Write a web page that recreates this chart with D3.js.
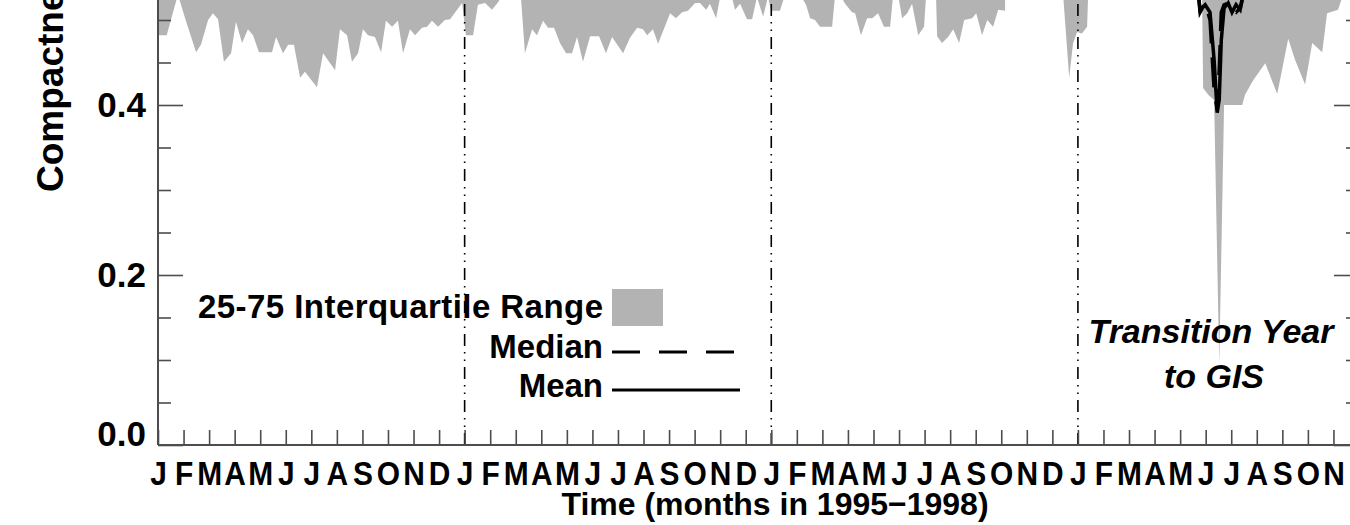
<!DOCTYPE html>
<html>
<head>
<meta charset="utf-8">
<script src="https://cdnjs.cloudflare.com/ajax/libs/d3/7.8.5/d3.min.js"></script>
<style>
  html, body { margin: 0; padding: 0; background: #fff; }
  svg { display: block; }
  text { font-family: "Liberation Sans", Arial, sans-serif; font-weight: bold; }
</style>
</head>
<body>
<svg id="chart" width="1350" height="525"></svg>
<script>
// ---------- DATA ----------
// time axis: months since Jan 1995 (0 = Jan 1995, 47 = Dec 1998)
const monthLabels = ["J","F","M","A","M","J","J","A","S","O","N","D"];
const yearStarts = [12, 24, 36];
const yMajorTicks = [0.0, 0.2, 0.4, 0.6];
const yMinorTicks = [0.05, 0.1, 0.15, 0.25, 0.3, 0.35, 0.45, 0.5, 0.55];

// 25th percentile (lower edge of the 25-75 range); null = no data
const iqrTime = [
  0.0, 0.34, 0.78, 1.06, 1.49, 1.68, 1.96, 2.15, 2.35, 2.58, 2.86, 3.05, 3.29, 3.52, 3.72, 3.95,
  4.46, 4.62, 4.89, 5.09, 5.32, 5.56, 5.75, 6.22, 6.46, 6.93, 7.12, 7.40, 7.59, 7.83, 8.02, 8.22,
  8.49, 8.73, 8.92, 9.16, 9.39, 9.59, 9.86, 10.06, 10.33, 10.53, 10.72, 10.96, 11.23, 11.43, 11.90,
  12.05, 12.33, 12.52, 12.80, 13.07, 13.31, 13.58, 13.97, 14.21, 14.36, 14.64, 14.83, 15.07, 15.26,
  15.50, 15.73, 15.97, 16.20, 16.40, 16.63, 16.91, 17.26, 17.53, 17.77, 18.20, 18.47, 18.75, 18.98,
  19.14, 19.37, 19.57, 20.04, 20.27, 20.51, 20.74, 21.02, 21.21, 21.45, 21.60, 21.84, 22.00, 22.35,
  22.58, 22.78, 23.05, 23.25, 23.44, 23.68, 23.87, 24.00,
  24.34, 24.54, 24.93, 25.36, 25.52, 25.71, 25.91, 26.38, 26.50, 26.69, 26.89, 27.16, 27.28, 27.51,
  27.75, 27.95, 28.18, 28.41, 28.65, 28.77, 28.96, 29.12, 29.32, 29.51, 29.75, 29.98, 30.06, 30.25,
  30.45, 30.49, 30.68, 30.92, 31.12, 31.35, 31.55, 31.86, 32.02, 32.25, 32.45, 32.68, 32.88, 33.15,
  34.3,
  35.42, 35.66, 35.81, 35.97, 36.16, 36.36, 36.40,
  38.6,
  40.86, 40.90, 41.10, 41.33, 41.53, 41.72, 42.43, 42.54, 42.86, 43.33, 43.80, 44.23, 44.50, 44.89,
  45.17, 45.56, 45.75, 46.18, 46.38, 46.65
];
const iqrLow = [
  0.482, 0.482, 0.530, 0.502, 0.462, 0.471, 0.500, 0.508, 0.501, 0.451, 0.461, 0.498, 0.473, 0.489, 0.482, 0.462,
  0.462, 0.480, 0.461, 0.471, 0.471, 0.432, 0.439, 0.421, 0.461, 0.441, 0.489, 0.482, 0.451, 0.461, 0.489, 0.482,
  0.480, 0.462, 0.499, 0.492, 0.499, 0.461, 0.489, 0.482, 0.491, 0.492, 0.499, 0.492, 0.500, 0.501, 0.520,
  0.482, 0.482, 0.518, 0.520, 0.512, 0.521, 0.535, 0.535, 0.524, 0.461, 0.489, 0.482, 0.499, 0.491,
  0.491, 0.473, 0.461, 0.461, 0.480, 0.451, 0.481, 0.481, 0.461, 0.480, 0.461, 0.479, 0.491, 0.489,
  0.482, 0.489, 0.472, 0.508, 0.502, 0.509, 0.511, 0.520, 0.520, 0.512, 0.519, 0.502, 0.527, 0.540,
  0.512, 0.519, 0.501, 0.501, 0.527, 0.504, 0.527, 0.511,
  0.511, 0.530, 0.540, 0.518, 0.502, 0.500, 0.492, 0.492, 0.530, 0.530, 0.519, 0.509, 0.508, 0.482,
  0.502, 0.502, 0.508, 0.492, 0.492, 0.530, 0.530, 0.502, 0.508, 0.519, 0.482, 0.492, 0.530, 0.535,
  0.525, 0.481, 0.473, 0.480, 0.489, 0.473, 0.500, 0.502, 0.508, 0.482, 0.500, 0.492, 0.512, 0.511,
  null,
  0.530, 0.432, 0.473, 0.486, 0.484, 0.492, 0.530,
  null,
  0.530, 0.420, 0.412, 0.406, 0.095, 0.400, 0.400, 0.412, 0.429, 0.449, 0.413, 0.478, 0.453, 0.424,
  0.473, 0.462, 0.508, 0.512, 0.530, 0.560
];

// Mean and median (only the part that dips into view, June-July 1998)
const lineTime   = [40.70, 40.78, 40.98, 41.17, 41.33, 41.45, 41.53, 41.61, 41.72, 41.88, 42.03, 42.19, 42.35, 42.47, 42.80];
const meanVals   = [0.535, 0.512, 0.518, 0.509, 0.453, 0.391, 0.406, 0.476, 0.514, 0.520, 0.509, 0.518, 0.512, 0.530, 0.540];
const medianVals = [0.535, 0.509, 0.520, 0.500, 0.418, 0.394, 0.441, 0.509, 0.518, 0.520, 0.512, 0.509, 0.514, 0.530, 0.540];

// ---------- CHART ----------
const svg = d3.select("#chart");
const x = d3.scaleLinear().domain([0, 47]).range([158, 1359]);
const y = d3.scaleLinear().domain([0, 0.6]).range([445, -65]);

const band = iqrTime.map((t, i) => ({ t, v: iqrLow[i] }));
const area = d3.area()
  .defined(d => d.v !== null)
  .x(d => x(d.t))
  .y0(d => y(d.v))
  .y1(y(0.6));
svg.append("path").datum(band).attr("d", area).attr("fill", "#b3b3b3");

// year separators (dash-dot)
svg.selectAll(".yearline").data(yearStarts).enter().append("line")
  .attr("x1", d => x(d)).attr("x2", d => x(d))
  .attr("y1", y(0)).attr("y2", y(0.6))
  .attr("stroke", "#000").attr("stroke-width", 1.6)
  .attr("stroke-dasharray", "12,6,1.5,6,1.5,6");

// mean / median
const lineData = lineTime.map((t, i) => ({ t, m: meanVals[i], md: medianVals[i] }));
svg.append("path").datum(lineData)
  .attr("d", d3.line().x(d => x(d.t)).y(d => y(d.md)))
  .attr("fill", "none").attr("stroke", "#000").attr("stroke-width", 3.5)
  .attr("stroke-dasharray", "30,14");
svg.append("path").datum(lineData)
  .attr("d", d3.line().x(d => x(d.t)).y(d => y(d.m)))
  .attr("fill", "none").attr("stroke", "#000").attr("stroke-width", 3.5);

const axisColor = "#4d4d4d";
function styleAxis(g) {
  g.select(".domain").remove();
  g.selectAll(".tick line").attr("stroke", axisColor).attr("stroke-width", 1.6);
}

// left axis
const yAxisMinor = svg.append("g").attr("transform", `translate(${x(0)},0)`)
  .call(d3.axisLeft(y).tickValues(yMinorTicks).tickSize(-13).tickFormat(""));
styleAxis(yAxisMinor);
const yAxis = svg.append("g").attr("transform", `translate(${x(0)},0)`)
  .call(d3.axisLeft(y).tickValues(yMajorTicks).tickSize(-25).tickPadding(12).tickFormat(d3.format(".1f")));
styleAxis(yAxis);
yAxis.selectAll("text").attr("font-size", 35).attr("fill", "#000")
  .attr("font-family", "Liberation Sans, Arial, sans-serif").attr("font-weight", "bold")
  .attr("dy", d => d === 0 ? "0em" : "0.34em");

// right axis (ticks only)
const yR1 = svg.append("g").attr("transform", `translate(${x(47)},0)`)
  .call(d3.axisRight(y).tickValues(yMinorTicks).tickSize(-13).tickFormat(""));
styleAxis(yR1);
const yR2 = svg.append("g").attr("transform", `translate(${x(47)},0)`)
  .call(d3.axisRight(y).tickValues(yMajorTicks).tickSize(-25).tickFormat(""));
styleAxis(yR2);

// bottom axis
const months = d3.range(0, 48);
const xAxis = svg.append("g").attr("transform", `translate(0,${y(0)})`)
  .call(d3.axisBottom(x).tickValues(months).tickSize(-15).tickPadding(16)
    .tickFormat(i => monthLabels[i % 12]));
styleAxis(xAxis);
xAxis.selectAll("text").attr("font-size", 34).attr("fill", "#000")
  .attr("font-family", "Liberation Sans, Arial, sans-serif").attr("font-weight", "bold")
  .attr("transform", "scale(0.88,1)");

// axis lines
svg.append("line").attr("x1", x(0)).attr("x2", x(0)).attr("y1", y(0)).attr("y2", y(0.6))
  .attr("stroke", axisColor).attr("stroke-width", 2);
svg.append("line").attr("x1", x(47)).attr("x2", x(47)).attr("y1", y(0)).attr("y2", y(0.6))
  .attr("stroke", axisColor).attr("stroke-width", 2);
svg.append("line").attr("x1", x(0)).attr("x2", x(47)).attr("y1", y(0)).attr("y2", y(0))
  .attr("stroke", axisColor).attr("stroke-width", 2);

// axis titles
svg.append("text").attr("x", 775).attr("y", 515)
  .attr("text-anchor", "middle").attr("font-size", 32).text("Time (months in 1995\u22121998)");
svg.append("text").attr("transform", "translate(63,192) rotate(-90)")
  .attr("text-anchor", "start").attr("font-size", 37).text("Compactness");

// legend
svg.append("text").attr("x", 603).attr("y", 318).attr("text-anchor", "end")
  .attr("font-size", 33).attr("textLength", 405).attr("lengthAdjust", "spacing")
  .text("25-75 Interquartile Range");
svg.append("rect").attr("x", 612).attr("y", 289).attr("width", 51).attr("height", 37).attr("fill", "#b3b3b3");
svg.append("text").attr("x", 603).attr("y", 358).attr("text-anchor", "end")
  .attr("font-size", 33).text("Median");
svg.append("line").attr("x1", 612).attr("x2", 736).attr("y1", 352).attr("y2", 352)
  .attr("stroke", "#000").attr("stroke-width", 3).attr("stroke-dasharray", "28,19");
svg.append("text").attr("x", 603).attr("y", 397).attr("text-anchor", "end")
  .attr("font-size", 33).text("Mean");
svg.append("line").attr("x1", 612).attr("x2", 740).attr("y1", 390).attr("y2", 390)
  .attr("stroke", "#000").attr("stroke-width", 3);

// annotation
const ann = svg.append("text").attr("text-anchor", "middle")
  .attr("font-family", "'Open Sans', Lato, sans-serif").attr("font-style", "italic").attr("font-weight", "bold")
  .attr("font-size", 34);
ann.append("tspan").attr("x", 1211).attr("y", 343).text("Transition Year");
ann.append("tspan").attr("x", 1214).attr("y", 388).text("to GIS");
</script>
</body>
</html>
